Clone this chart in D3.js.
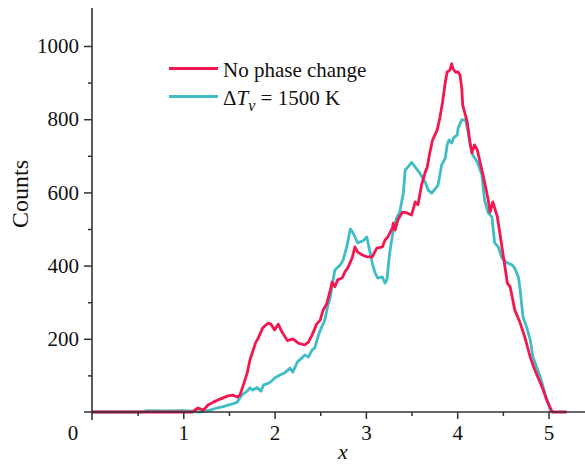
<!DOCTYPE html>
<html><head><meta charset="utf-8">
<script src="https://cdn.jsdelivr.net/npm/d3@7"></script>
<style>body{margin:0;background:#fff}svg{display:block}text{font-family:"Liberation Serif","Times New Roman",serif;fill:#111}</style>
</head><body>
<script>
const redX = [0,1.02,1.10,1.16,1.22,1.27,1.33,1.38,1.43,1.49,1.54,1.59,1.62,1.65,1.70,1.73,1.79,1.82,1.87,1.93,1.96,2.00,2.04,2.08,2.14,2.20,2.26,2.33,2.37,2.41,2.46,2.50,2.53,2.57,2.61,2.63,2.66,2.69,2.74,2.77,2.80,2.85,2.88,2.91,2.96,3.01,3.07,3.12,3.18,3.21,3.24,3.29,3.30,3.32,3.35,3.40,3.45,3.50,3.54,3.57,3.61,3.65,3.67,3.70,3.73,3.78,3.81,3.84,3.87,3.89,3.92,3.94,3.95,3.98,4.01,4.03,4.05,4.06,4.11,4.14,4.16,4.19,4.22,4.25,4.29,4.34,4.36,4.39,4.44,4.49,4.55,4.58,4.63,4.69,4.74,4.80,4.85,4.93,4.98,5.04,5.20];
const redY = [0,0,0,11,5,19,27,33,38,44,46,41,46,68,107,142,188,202,230,243,240,224,240,219,195,200,188,183,191,210,240,251,278,295,333,355,342,361,366,383,393,421,451,437,429,424,424,448,451,470,478,503,516,497,525,546,544,538,574,566,620,656,667,708,743,770,803,847,902,929,934,952,940,929,929,921,885,839,792,738,708,730,716,683,640,579,546,574,533,451,352,342,279,243,205,150,115,68,33,0,0];
const tealX = [0,0.55,0.60,0.80,1.00,1.10,1.18,1.29,1.37,1.43,1.49,1.54,1.59,1.64,1.70,1.73,1.76,1.81,1.85,1.88,1.93,1.97,2.00,2.06,2.11,2.17,2.20,2.25,2.30,2.33,2.37,2.41,2.44,2.48,2.52,2.55,2.58,2.61,2.64,2.66,2.72,2.75,2.79,2.83,2.86,2.91,2.97,3.01,3.04,3.07,3.10,3.13,3.18,3.21,3.23,3.26,3.30,3.34,3.37,3.41,3.43,3.46,3.50,3.54,3.59,3.65,3.68,3.72,3.76,3.79,3.83,3.87,3.89,3.91,3.94,3.96,4.00,4.01,4.05,4.09,4.12,4.14,4.17,4.22,4.27,4.30,4.34,4.38,4.41,4.45,4.49,4.55,4.60,4.63,4.67,4.69,4.72,4.76,4.80,4.83,4.87,4.91,4.96,5.02,5.05];
const tealY = [0,0,4,3,4,2,0,5,11,14,19,22,27,46,57,66,60,67,57,74,78,85,93,101,107,120,109,137,148,156,150,169,175,210,235,251,287,314,361,388,402,415,451,500,489,462,468,478,443,407,380,366,369,352,361,434,497,533,546,598,661,669,682,669,653,628,607,598,610,620,675,694,730,743,735,749,757,776,798,798,765,730,702,683,648,579,544,533,462,451,421,407,402,393,369,333,260,232,197,150,123,96,52,5,0];
const xMajor = [1,2,3,4,5];
const xMinor = [0.5,1.5,2.5,3.5,4.5];
const yMajor = [200,400,600,800,1000];
const yMinor = [100,300,500,700,900];
const seriesNames = ["No phase change","ΔT_v = 1500 K"];
const colors = ["#f4164f","#3fbcc6"];

const W=585,H=464;
const svg=d3.select("body").append("svg").attr("width",W).attr("height",H);
const x=d3.scaleLinear().domain([0,5]).range([92,548.5]);
const y=d3.scaleLinear().domain([0,1000]).range([412,46]);
const axisColor="#333";

// series
const line=d3.line().x(d=>x(d[0])).y(d=>y(d[1]));
const teal=tealX.map((v,i)=>[v,tealY[i]]);
const red=redX.map((v,i)=>[v,redY[i]]);
svg.append("path").datum(teal).attr("d",line).attr("fill","none").attr("stroke",colors[1]).attr("stroke-width",2.8).attr("stroke-linejoin","round");
svg.append("path").datum(red).attr("d",line).attr("fill","none").attr("stroke",colors[0]).attr("stroke-width",2.8).attr("stroke-linejoin","round");

// x axis
const gx=svg.append("g").attr("transform","translate(0,412)");
gx.call(d3.axisBottom(x).tickValues(xMajor).tickSize(7).tickFormat(d3.format("d")));
gx.select(".domain").remove();
gx.selectAll(".tick line").attr("stroke",axisColor).attr("stroke-width",1.5);
gx.selectAll(".tick text").attr("font-size",21).attr("dy",0).attr("y",28).style("font-family","Liberation Serif").attr("fill","#111");
const gxm=svg.append("g").attr("transform","translate(0,412)");
gxm.call(d3.axisBottom(x).tickValues(xMinor).tickSize(4).tickFormat(""));
gxm.select(".domain").remove();
gxm.selectAll(".tick line").attr("stroke",axisColor).attr("stroke-width",1.5);
svg.append("line").attr("x1",84).attr("x2",585).attr("y1",412).attr("y2",412).attr("stroke",axisColor).attr("stroke-width",1.6);

// y axis
const gy=svg.append("g").attr("transform","translate(92,0)");
gy.call(d3.axisLeft(y).tickValues(yMajor).tickSize(8).tickFormat(d3.format("d")));
gy.select(".domain").remove();
gy.selectAll(".tick line").attr("stroke",axisColor).attr("stroke-width",1.5);
gy.selectAll(".tick text").attr("font-size",21).attr("x",-13).style("font-family","Liberation Serif").attr("fill","#111");
const gym=svg.append("g").attr("transform","translate(92,0)");
gym.call(d3.axisLeft(y).tickValues(yMinor).tickSize(4).tickFormat(""));
gym.select(".domain").remove();
gym.selectAll(".tick line").attr("stroke",axisColor).attr("stroke-width",1.5);
svg.append("line").attr("x1",92).attr("x2",92).attr("y1",8).attr("y2",420).attr("stroke",axisColor).attr("stroke-width",1.6);

// origin label
svg.append("text").attr("x",73).attr("y",440).attr("text-anchor","middle").attr("font-size",21).text("0");

// axis titles
svg.append("text").attr("x",343).attr("y",459).attr("text-anchor","middle").attr("font-size",22).attr("font-style","italic").text("x");
svg.append("text").attr("transform","translate(28,194) rotate(-90)").attr("text-anchor","middle").attr("font-size",24).text("Counts");

// legend
const lg=svg.append("g");
lg.append("line").attr("x1",169).attr("x2",218).attr("y1",68.5).attr("y2",68.5).attr("stroke",colors[0]).attr("stroke-width",2.8);
lg.append("text").attr("x",223).attr("y",77).attr("font-size",21).text(seriesNames[0]);
lg.append("line").attr("x1",169).attr("x2",218).attr("y1",96.5).attr("y2",96.5).attr("stroke",colors[1]).attr("stroke-width",2.8);
const t2=lg.append("text").attr("x",223).attr("y",105).attr("font-size",21);
t2.append("tspan").text("Δ");
t2.append("tspan").attr("font-style","italic").text("T");
t2.append("tspan").attr("font-style","italic").attr("font-size",16).attr("dy",6).text("ν");
t2.append("tspan").attr("dy",-6).text(" = 1500 K");
</script>
</body></html>
